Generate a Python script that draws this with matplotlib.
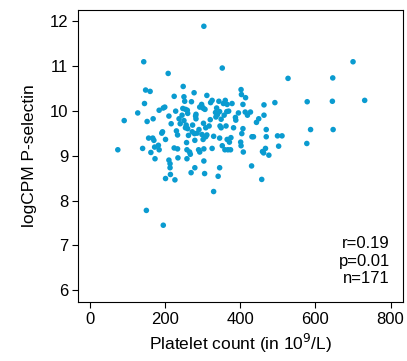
import numpy as np
import matplotlib.pyplot as plt

plt.rcParams["font.family"] = ["Liberation Sans", "DejaVu Sans"]

# platelet count (10^9/L) and logCPM P-selectin
platelets = [
    303, 143, 352, 208, 527, 700, 646, 731, 578, 645, 492, 587, 647, 577,
    148, 160, 145, 127, 91, 74, 140, 152, 168, 156, 167, 170, 162, 172, 173,
    182, 184, 184, 195, 199, 193, 191, 201, 210, 216, 201, 226, 210, 213, 213,
    214, 195, 150, 224, 228, 224, 233, 233, 234, 237, 240, 248, 250, 252, 247,
    245, 254, 259, 260, 256, 254, 260, 257, 258, 258, 265, 267, 269, 277, 270,
    273, 272, 278, 281, 282, 282, 279, 279, 285, 289, 292, 292, 297, 299, 302,
    306, 298, 301, 302, 303, 303, 305, 311, 308, 308, 311, 317, 321, 325, 325,
    329, 329, 334, 335, 337, 339, 341, 343, 345, 346, 345, 345, 349, 349, 352,
    355, 357, 360, 359, 362, 364, 365, 365, 367, 369, 371, 374, 378, 382, 387,
    388, 402, 403, 404, 401, 402, 407, 407, 408, 414, 413, 419, 427, 431, 435,
    430, 443, 449, 463, 463, 469, 469, 459, 462, 467, 476, 457, 499, 511, 502,
    230, 262, 290, 320, 375, 395, 250,
]
pselectin = [
    11.88, 11.09, 10.95, 10.83, 10.72, 11.09, 10.73, 10.23, 10.20, 10.21, 10.18,
    9.58, 9.58, 9.27, 10.46, 10.43, 10.16, 9.95, 9.78, 9.13, 9.16, 9.76, 9.82,
    9.39, 9.39, 9.34, 9.07, 9.19, 8.93, 9.23, 9.13, 10.01, 10.06, 10.08, 9.53,
    9.50, 9.36, 9.88, 9.71, 8.49, 8.46, 8.90, 8.82, 8.73, 8.58, 7.45, 7.78,
    10.32, 9.99, 9.17, 9.46, 9.15, 8.95, 9.82, 9.71, 10.54, 10.31, 10.21, 10.05,
    9.90, 10.03, 10.01, 9.94, 9.68, 9.62, 9.60, 9.29, 9.13, 8.93, 9.08, 9.03,
    8.62, 10.40, 10.20, 9.68, 9.53, 9.49, 9.88, 9.82, 9.92, 9.34, 8.73, 9.50,
    9.13, 9.08, 10.08, 10.14, 10.08, 10.05, 10.03, 9.47, 9.36, 9.72, 9.15, 8.88,
    8.60, 10.34, 9.62, 9.42, 9.46, 9.66, 10.18, 10.23, 9.16, 9.43, 8.20, 9.96,
    9.86, 10.06, 9.91, 8.54, 10.21, 9.98, 9.66, 9.39, 8.73, 9.81, 9.62, 9.22,
    10.16, 9.90, 10.23, 9.13, 9.66, 9.98, 10.14, 9.36, 9.13, 9.99, 9.30, 9.13,
    10.16, 9.62, 9.85, 9.79, 10.47, 10.36, 9.49, 9.30, 9.22, 9.60, 10.14, 9.08,
    10.29, 9.97, 9.90, 9.97, 9.42, 9.42, 8.77, 9.74, 9.82, 10.13, 9.90, 9.58,
    9.42, 9.09, 9.06, 9.16, 9.01, 8.47, 9.44, 9.44, 9.21,
    9.55, 9.45, 9.58, 9.80, 9.40, 9.95, 9.78,
]
stats_lines = ["r=0.19", "p=0.01", "n=171"]

fig = plt.figure(figsize=(4.07, 3.61), dpi=100)
ax = fig.add_axes([0.1916, 0.1634, 0.7986, 0.8086])

ax.scatter(platelets, pselectin, s=16, color="#0a9bd0", edgecolors="none")

ax.set_xlim(-32, 833)
ax.set_ylim(5.74, 12.24)
ax.set_xticks([0, 200, 400, 600, 800])
ax.set_yticks([6, 7, 8, 9, 10, 11, 12])
ax.tick_params(direction="out", length=4, width=0.8, labelsize=12, pad=3)
for sp in ax.spines.values():
    sp.set_linewidth(0.8)

ax.set_xlabel("Platelet count (in 10$^{9}$/L)", fontsize=12.5, labelpad=4)
ax.set_ylabel("logCPM P-selectin", fontsize=12.5, labelpad=9)

ax.text(0.96, 0.225, "\n".join(stats_lines), transform=ax.transAxes,
        ha="right", va="top", fontsize=12, linespacing=1.2)

fig.savefig("out.png", dpi=100)
